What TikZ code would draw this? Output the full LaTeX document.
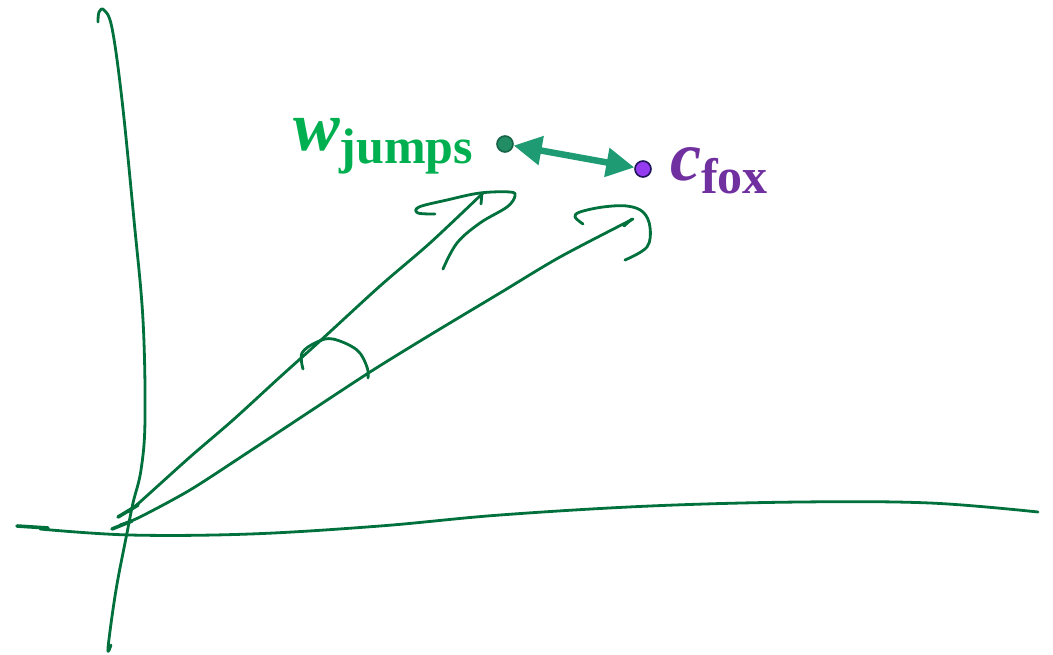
\documentclass[tikz,border=0pt]{standalone}
\usepackage{fontspec}
\setmainfont{Liberation Serif}
\usetikzlibrary{arrows.meta}
\definecolor{ink}{RGB}{0,112,60}
\definecolor{wgreen}{RGB}{0,176,80}
\definecolor{cpurple}{RGB}{112,48,160}
\definecolor{arrowteal}{RGB}{30,155,115}
\definecolor{wdot}{RGB}{34,140,100}
\definecolor{wdotb}{RGB}{20,100,70}
\definecolor{cdot}{RGB}{150,60,240}
\definecolor{cdotb}{RGB}{30,20,90}
\tikzset{
  inkline/.style={draw=ink,line width=2.8pt,line cap=round,line join=round},
  dotnode/.style={circle,inner sep=0pt,minimum size=16pt,line width=1.6pt},
  bigw/.style={font=\fontsize{70}{70}\selectfont\bfseries\itshape},
}
\newcommand{\subtxt}[1]{{\fontsize{50}{50}\selectfont\bfseries\upshape\raisebox{-13pt}{#1}}}
\begin{document}
\begin{tikzpicture}[x=1pt,y=-1pt]
\useasboundingbox (0,0) rectangle (1053,654);
% vertical axis
\draw[inkline] plot[smooth,tension=0.6] coordinates {(98,22) (99,12) (104,10) (112,28) (122,100) (134,220) (143,320) (145,420) (141,470) (133,503) (127,533) (116,590) (108,648) (111,645)};
% horizontal axis
\draw[inkline,line width=3.6pt] (17,526) -- (48,528);
\draw[inkline] plot[smooth,tension=0.6] coordinates {(40,529) (130,535) (250,534) (380,526) (500,515) (650,506) (800,502) (930,503) (1038,512)};
% upper vector
\draw[inkline] plot[smooth,tension=0.5] coordinates {(128,512) (140,502) (190,457) (233,420) (280,377) (320,341) (380,286) (430,243) (483,193)};
\draw[inkline,line width=3.6pt] (118,517) -- (138,505);
% upper arrowhead
\draw[inkline] plot[smooth,tension=0.6] coordinates {(435,214) (418,213) (419,207) (447,200) (480,193) (510,192) (515,196) (507,207) (480,223) (457,243) (443,269)};
\draw[inkline] (482,193) -- (481,204);
% lower vector
\draw[inkline] plot[smooth,tension=0.5] coordinates {(120,525) (140,517) (190,490) (247,453) (300,418) (370,372) (430,335) (500,293) (560,257) (633,219)};
\draw[inkline,line width=3.6pt] (112,529) -- (132,521);
% lower arrowhead
\draw[inkline] plot[smooth,tension=0.6] coordinates {(583,224) (575,217) (580,212) (603,207) (627,206) (643,212) (650,227) (647,247) (625,260)};
\draw[inkline] (632,219) -- (624,226);
% angle arc
\draw[inkline] plot[smooth,tension=0.6] coordinates {(303,369) (302,353) (317,342) (333,339) (357,350) (367,367) (368,378)};
% points
\node[dotnode,fill=wdot,draw=wdotb] (w) at (505,144) {};
\node[dotnode,fill=cdot,draw=cdotb] (c) at (643,169) {};
\draw[draw=arrowteal,line width=6.5pt,{Triangle[length=28pt,width=28pt]}-{Triangle[length=28pt,width=28pt]}] (w) -- (c);
% labels
\node[anchor=base west,inner sep=0pt,text=wgreen,bigw] (wl) at (293,150) {w\subtxt{jumps}};
\node[anchor=base west,inner sep=0pt,text=cpurple,bigw] (cl) at (670,180) {c\subtxt{fox}};
\end{tikzpicture}
\end{document}
